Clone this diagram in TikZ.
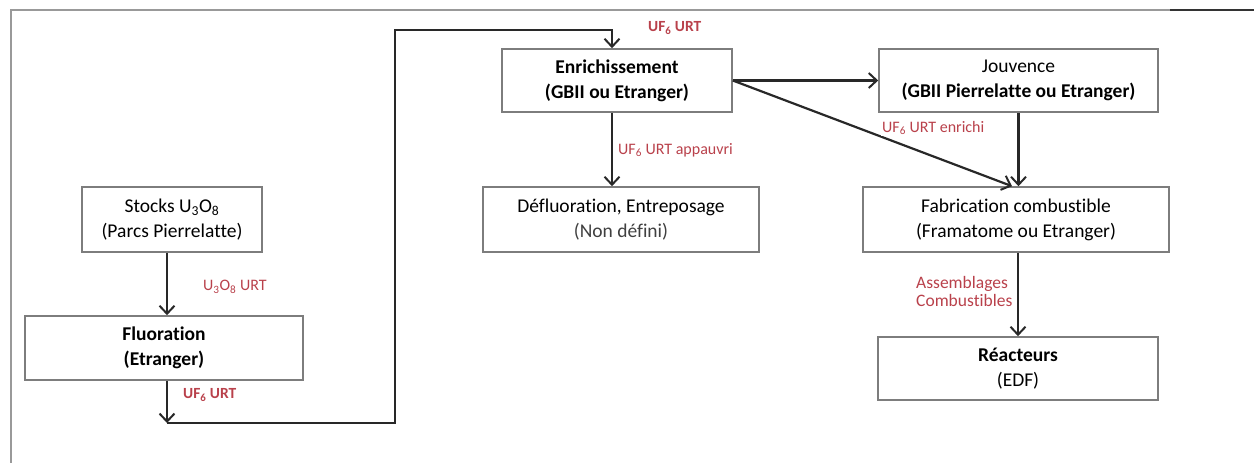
\documentclass[tikz,border=0pt]{standalone}
\usepackage{fontspec}
\setmainfont{Carlito}[Ligatures={NoCommon,NoRare}]
\usetikzlibrary{arrows.meta}
\definecolor{lbl}{RGB}{185,65,75}
\definecolor{boxline}{RGB}{125,125,125}
\definecolor{arrcol}{RGB}{40,40,40}
\tikzset{
  procbox/.style={draw=boxline, line width=1.6pt, fill=white, align=center, inner sep=0pt,
    font=\fontsize{19.5}{25}\selectfont},
  arr/.style={draw=arrcol, line width=2.2pt, -{Straight Barb[length=8pt,width=15pt,line width=2pt]}},
  redlbl/.style={text=lbl, font=\fontsize{16}{17}\selectfont, inner sep=0pt, align=left},
  redlblb/.style={text=lbl, font=\fontsize{15.5}{17}\selectfont\bfseries, inner sep=0pt}
}
\begin{document}
\begin{tikzpicture}[x=1pt,y=-1pt]
\useasboundingbox (0,0) rectangle (1254,463);
% frame
\draw[draw=gray!80, line width=1.5pt] (11,463) -- (11,10) -- (1254,10);
\draw[draw=gray!40!black, line width=1.8pt] (1170,10) -- (1254,10);

% boxes
\node[procbox, minimum width=180pt, minimum height=65pt] (stocks) at (172,219.5)
  {Stocks U\textsubscript{3}O\textsubscript{8}\\(Parcs Pierrelatte)};
\node[procbox, minimum width=278pt, minimum height=64pt] (fluo) at (164,348)
  {\bfseries Fluoration\\\bfseries (Etranger)};
\node[procbox, minimum width=230pt, minimum height=63pt] (enr) at (617,80.5)
  {\bfseries Enrichissement\\\bfseries (GBII ou Etranger)};
\node[procbox, minimum width=276pt, minimum height=65pt] (def) at (621,219.5)
  {Défluoration, Entreposage\\\textcolor{black!75}{(Non défini)}};
\node[procbox, minimum width=279pt, minimum height=63pt] (jouv) at (1018.5,80.5)
  {Jouvence\\\bfseries (GBII Pierrelatte ou Etranger)};
\node[procbox, minimum width=306pt, minimum height=65pt] (fab) at (1016,219.5)
  {Fabrication combustible\\(Framatome ou Etranger)};
\node[procbox, minimum width=280pt, minimum height=63pt] (reac) at (1018,368.5)
  {\bfseries Réacteurs\\(EDF)};

% helper coordinates
\coordinate (c1) at (167,423);
\coordinate (c2) at (395,30);
\coordinate (c3) at (612,30);

% connectors
\draw[arr] ([xshift=-5pt]stocks.south) -- ([xshift=-5pt]stocks.south |- fluo.north);
\draw[arr] (fluo.south -| c1) -- (c1);
\draw[arr] (c1) -- (c1 -| c2) -- (c2) -- (c3) -- (c3 |- enr.north);
\draw[arr] (c3 |- enr.south) -- (c3 |- def.north);
\draw[arr] (enr.east) -- (jouv.west);
\draw[arr] (enr.east) -- ([xshift=-4pt]fab.north);
\draw[arr] (jouv.south) -- (jouv.south |- fab.north);
\draw[arr] (reac.north |- fab.south) -- (reac.north);

% labels
\node[redlbl, anchor=west] (l1) at (203,287) {U\textsubscript{3}O\textsubscript{8} URT};
\node[redlblb, anchor=west] (l2) at (183,395) {UF\textsubscript{6} URT};
\node[redlblb, anchor=west] (l3) at (648,28) {UF\textsubscript{6} URT};
\node[redlbl, anchor=west] (l4) at (618,150) {UF\textsubscript{6} URT appauvri};
\node[redlbl, anchor=west, fill=white, inner sep=1pt] (l5) at (881,128) {UF\textsubscript{6} URT enrichi};
\node[redlbl, anchor=west, font=\fontsize{17.5}{17.5}\selectfont] (l6) at (916,291.5) {Assemblages\\Combustibles};
\end{tikzpicture}
\end{document}
